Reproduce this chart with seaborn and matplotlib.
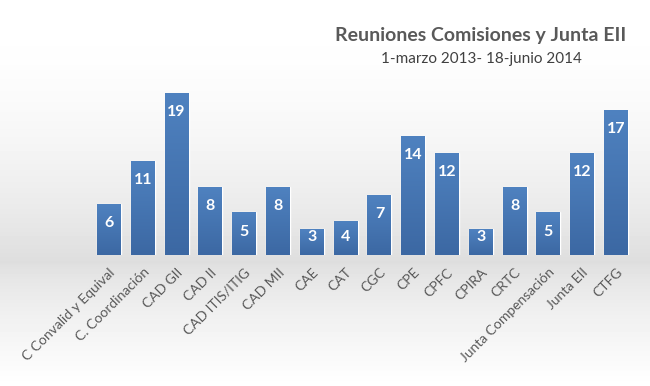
import numpy as np
import pandas as pd
import matplotlib
matplotlib.use("Agg")
import matplotlib.pyplot as plt
import seaborn as sns
from matplotlib.colors import LinearSegmentedColormap

categories = ["C Convalid y Equival", "C. Coordinación", "CAD GII", "CAD II", "CAD ITIS/ITIG",
              "CAD MII", "CAE", "CAT", "CGC", "CPE", "CPFC", "CPIRA", "CRTC",
              "Junta Compensación", "Junta EII", "CTFG"]
values = [6, 11, 19, 8, 5, 8, 3, 4, 7, 14, 12, 3, 8, 5, 12, 17]
title = "Reuniones Comisiones y Junta EII"
subtitle = "1-marzo 2013- 18-junio 2014"

sns.set_theme(style="white")
plt.rcParams['font.family'] = ['Lato', 'DejaVu Sans']

fig = plt.figure(figsize=(6.5, 3.86), dpi=100)

# background gradient
bg = fig.add_axes([0, 0, 1, 1], zorder=0)
H = 386
ys = np.arange(H)
col = np.empty(H)
for i, y in enumerate(ys):
    if y < 262:
        t = y / 262.0
        col[i] = 1.0 - 0.13 * t ** 2.0
    else:
        t = (y - 262) / (H - 262.0)
        col[i] = 0.87 + 0.13 * min(1, t ** 0.7)
img = np.repeat(col[:, None], 10, axis=1)
bg.imshow(img, cmap="gray", vmin=0, vmax=1, aspect="auto", extent=[0, 1, 0, 1], origin="upper")
bg.set_axis_off()

ax = fig.add_axes([82 / 650, (386 - 255) / 386, (643 - 82) / 650, 170.6 / 386], zorder=1)
ax.patch.set_alpha(0)

df = pd.DataFrame({"cat": categories, "val": values})
sns.barplot(data=df, x="cat", y="val", color="#4677b5", width=0.71, ax=ax, saturation=1)

ax.set_xlim(-0.8, 15.8)
ax.set_ylim(0, 20)

# gradient fill in bars
grad = LinearSegmentedColormap.from_list("g", ["#3c68a3", "#4f82c0"])
gimg = np.linspace(0, 1, 100)[:, None]
for p in ax.patches:
    x0, w, h = p.get_x(), p.get_width(), p.get_height()
    im = ax.imshow(gimg, cmap=grad, aspect="auto", origin="lower",
                   extent=[x0, x0 + w, 0, h], zorder=2)
    im.set_clip_path(p)
ax.set_xlim(-0.8, 15.8)
ax.set_ylim(0, 20)

for i, v in enumerate(values):
    ypos = max(v - 2.25, 2.15)
    ax.text(i, ypos, str(v), ha="center", va="center", color="white",
            fontsize=11.5, fontweight="bold", zorder=3)

ax.set_xlabel("")
ax.set_ylabel("")
ax.set_yticks([])
ax.set_xticks(range(len(categories)))
ax.set_xticklabels(categories, rotation=45, ha="right", rotation_mode="anchor",
                   fontsize=10, color="#595959")
ax.tick_params(axis="x", length=0, pad=8)
for s in ax.spines.values():
    s.set_visible(False)

fig.text(481 / 650, 1 - 36 / 386, title, ha="center", va="center", fontsize=14,
         fontweight="bold", color="#595959")
fig.text(481 / 650, 1 - 59 / 386, subtitle, ha="center", va="center", fontsize=11,
         color="#404040")

fig.savefig("out.png", dpi=100)
